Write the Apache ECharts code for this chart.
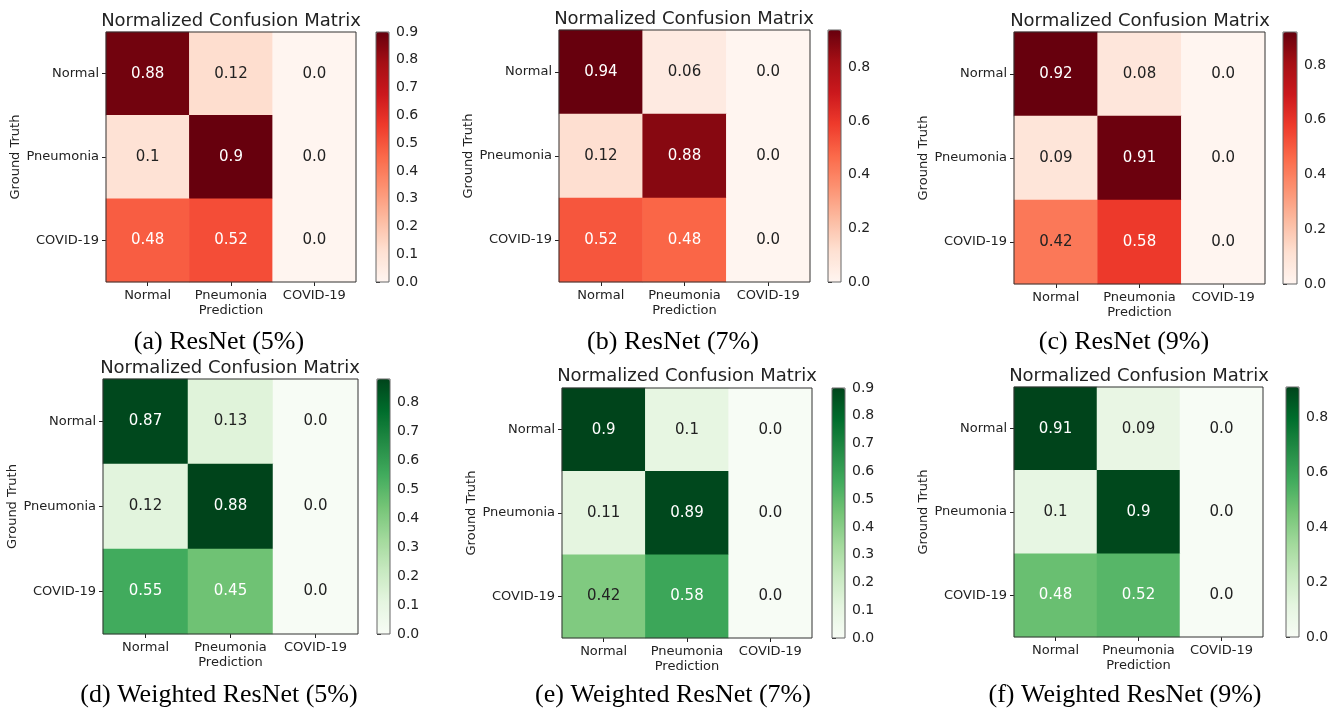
<!DOCTYPE html>
<html><head><meta charset="utf-8">
<script src="https://cdn.jsdelivr.net/npm/echarts@6/dist/echarts.min.js"></script>
<style>html,body{margin:0;padding:0;background:#fff}#c{width:1343px;height:711px}</style>
</head><body><div id="c"></div>
<script>
// ---- data ----
const predCategories = ['Normal', 'Pneumonia', 'COVID-19'];
const truthCategories = ['Normal', 'Pneumonia', 'COVID-19'];
const chartTitle = 'Normalized Confusion Matrix';
const xAxisName = 'Prediction';
const yAxisName = 'Ground Truth';
const captions = ['(a) ResNet (5%)', '(b) ResNet (7%)', '(c) ResNet (9%)',
  '(d) Weighted ResNet (5%)', '(e) Weighted ResNet (7%)', '(f) Weighted ResNet (9%)'];
// rows = ground truth, columns = prediction
const matA = [[0.88, 0.12, 0.0], [0.1, 0.9, 0.0], [0.48, 0.52, 0.0]];
const matB = [[0.94, 0.06, 0.0], [0.12, 0.88, 0.0], [0.52, 0.48, 0.0]];
const matC = [[0.92, 0.08, 0.0], [0.09, 0.91, 0.0], [0.42, 0.58, 0.0]];
const matD = [[0.87, 0.13, 0.0], [0.12, 0.88, 0.0], [0.55, 0.45, 0.0]];
const matE = [[0.9, 0.1, 0.0], [0.11, 0.89, 0.0], [0.42, 0.58, 0.0]];
const matF = [[0.91, 0.09, 0.0], [0.1, 0.9, 0.0], [0.48, 0.52, 0.0]];
const colorbarMax = [0.9, 0.94, 0.92, 0.88, 0.9, 0.91];
const ticksFine = [0, 0.1, 0.2, 0.3, 0.4, 0.5, 0.6, 0.7, 0.8, 0.9];
const ticksFine8 = [0, 0.1, 0.2, 0.3, 0.4, 0.5, 0.6, 0.7, 0.8];
const ticksCoarse = [0, 0.2, 0.4, 0.6, 0.8];
const cbTicks = [ticksFine, ticksCoarse, ticksCoarse, ticksFine8, ticksFine, ticksCoarse];
const mats = [matA, matB, matC, matD, matE, matF];

// ---- styles / layout ----
const REDS = ['#fff5f0','#fee0d2','#fcbba1','#fc9272','#fb6a4a','#ef3b2c','#cb181d','#a50f15','#67000d'];
const GREENS = ['#f7fcf5','#e5f5e0','#c7e9c0','#a1d99b','#74c476','#41ab5d','#238b45','#006d2c','#00441b'];
const cmaps = [REDS, REDS, REDS, GREENS, GREENS, GREENS];
const FONT = 'DejaVu Sans';
const DARK = '#222';
const layout = [
  {g:[106,32,250,250], cb:[376,32,13,250], t:[231,21], cap:[219,342], ng:84},
  {g:[559,30,251,252], cb:[828,30,13,252], t:[684,19], cap:[673,342], ng:84},
  {g:[1014,32,251,252], cb:[1283,32,14,252], t:[1140,21], cap:[1124,342], ng:84},
  {g:[103,379,255,255], cb:[377,379,13,255], t:[230,368], cap:[219,695], ng:81},
  {g:[562,388,250,250], cb:[832,388,13,250], t:[687,376], cap:[673,695], ng:84},
  {g:[1014,387,249,250], cb:[1286,387,13,250], t:[1139,376], cap:[1125,695], ng:84}
];

const grid = [], xAxis = [], yAxis = [], series = [], visualMap = [], graphic = [];
const fmt = v => (v === 0 ? '0.0' : String(v));

mats.forEach((m, i) => {
  const L = layout[i];
  const vmax = colorbarMax[i];
  const gi = grid.length;
  grid.push({left:L.g[0], top:L.g[1], width:L.g[2], height:L.g[3], show:true, z:10,
    backgroundColor:'transparent', borderColor:'#333', borderWidth:1});
  grid.push({left:L.cb[0], top:L.cb[1], width:L.cb[2], height:L.cb[3], show:true, z:10,
    backgroundColor:'transparent', borderColor:'#666', borderWidth:1});
  const xi = xAxis.length;
  xAxis.push({type:'category', gridIndex:gi, data:predCategories, position:'bottom',
    axisLine:{show:false}, axisTick:{show:true, alignWithLabel:true, length:4, lineStyle:{color:DARK}},
    axisLabel:{fontFamily:FONT, fontSize:13, color:DARK, margin:7, interval:0, hideOverlap:false},
    name:xAxisName, nameLocation:'middle', nameGap:22,
    nameTextStyle:{fontFamily:FONT, fontSize:13, color:DARK}, splitLine:{show:false}});
  xAxis.push({type:'value', gridIndex:gi+1, show:false, min:0, max:1});
  const yi = yAxis.length;
  yAxis.push({type:'category', gridIndex:gi, data:truthCategories, inverse:true,
    axisLine:{show:false}, axisTick:{show:true, alignWithLabel:true, length:4, lineStyle:{color:DARK}},
    axisLabel:{fontFamily:FONT, fontSize:13, color:DARK, margin:7, interval:0},
    name:yAxisName, nameLocation:'middle', nameGap:L.ng, nameRotate:90,
    nameTextStyle:{fontFamily:FONT, fontSize:13, color:DARK}, splitLine:{show:false}});
  const ticks = cbTicks[i];
  yAxis.push({type:'value', gridIndex:gi+1, position:'right', min:0, max:vmax,
    axisLine:{show:false}, splitLine:{show:false},
    axisTick:{show:true, length:4, lineStyle:{color:DARK}, customValues:ticks},
    axisLabel:{fontFamily:FONT, fontSize:14, color:DARK, margin:7, customValues:ticks,
      formatter:v => v.toFixed(1)}});
  const data = [];
  m.forEach((row, r) => row.forEach((v, c) => {
    data.push({value:[c, r, v], label:{color: v > vmax / 2 ? '#fff' : DARK}});
  }));
  series.push({type:'heatmap', xAxisIndex:xi, yAxisIndex:yi, data,
    label:{show:true, fontFamily:FONT, fontSize:15, formatter:p => fmt(p.value[2])},
    emphasis:{disabled:true}, progressive:0});
  series.push({type:'line', xAxisIndex:xi+1, yAxisIndex:yi+1, data:[], silent:true});
  visualMap.push({type:'continuous', seriesIndex:series.length - 2, min:0, max:vmax,
    calculable:false, hoverLink:false, realtime:false, orient:'vertical',
    left:L.cb[0], top:L.cb[1], itemWidth:L.cb[2], itemHeight:L.cb[3], padding:0,
    inRange:{color:cmaps[i]}, text:null, textStyle:{fontSize:0}});
  graphic.push({type:'text', x:L.t[0], y:L.t[1], silent:true,
    style:{text:chartTitle, fontFamily:FONT, fontSize:18, fill:DARK,
      align:'center', verticalAlign:'middle', textAlign:'center', textVerticalAlign:'middle'}});
  graphic.push({type:'text', x:L.cap[0], y:L.cap[1], silent:true,
    style:{text:captions[i], fontFamily:'Liberation Serif', fontSize:26, fill:'#000',
      align:'center', verticalAlign:'middle', textAlign:'center', textVerticalAlign:'middle'}});
});

const chart = echarts.init(document.getElementById('c'), null, {renderer:'canvas'});
chart.setOption({animation:false, backgroundColor:'#fff', grid, xAxis, yAxis, series, visualMap, graphic});
</script></body></html>
